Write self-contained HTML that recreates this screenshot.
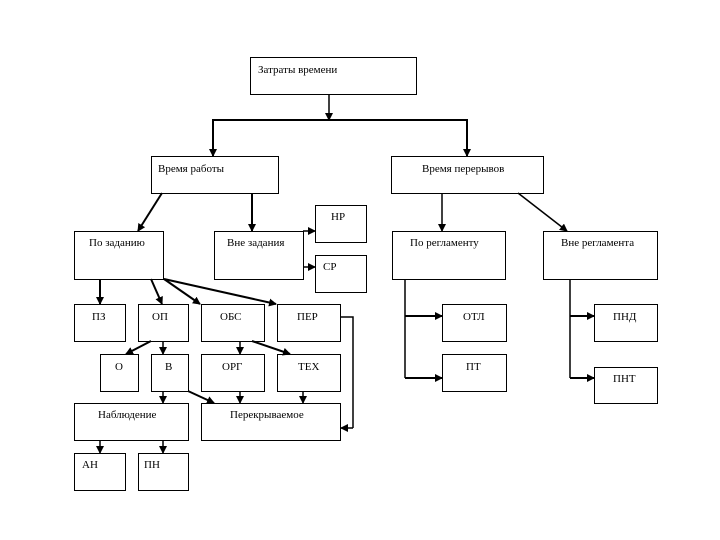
<!DOCTYPE html>
<html><head><meta charset="utf-8"><style>
html,body{margin:0;padding:0;background:#fff;}
svg{display:block;}
text{font-family:"Liberation Serif",serif;font-size:11px;fill:#000;}
</style></head><body>
<svg width="720" height="540" viewBox="0 0 720 540" xmlns="http://www.w3.org/2000/svg">
<defs>
<marker id="a" markerWidth="8" markerHeight="8" refX="7" refY="4" orient="auto" markerUnits="userSpaceOnUse">
<path d="M0,0 L8,4 L0,8 z" fill="#000"/></marker>
</defs>
<g fill="#fff" stroke="#000" stroke-width="1">
<rect x="250.5" y="57.5" width="166" height="37"/>
<rect x="151.5" y="156.5" width="127" height="37"/>
<rect x="391.5" y="156.5" width="152" height="37"/>
<rect x="74.5" y="231.5" width="89" height="48"/>
<rect x="214.5" y="231.5" width="89" height="48"/>
<rect x="315.5" y="205.5" width="51" height="37"/>
<rect x="315.5" y="255.5" width="51" height="37"/>
<rect x="392.5" y="231.5" width="113" height="48"/>
<rect x="543.5" y="231.5" width="114" height="48"/>
<rect x="74.5" y="304.5" width="51" height="37"/>
<rect x="138.5" y="304.5" width="50" height="37"/>
<rect x="201.5" y="304.5" width="63" height="37"/>
<rect x="277.5" y="304.5" width="63" height="37"/>
<rect x="100.5" y="354.5" width="38" height="37"/>
<rect x="151.5" y="354.5" width="37" height="37"/>
<rect x="201.5" y="354.5" width="63" height="37"/>
<rect x="277.5" y="354.5" width="63" height="37"/>
<rect x="74.5" y="403.5" width="114" height="37"/>
<rect x="201.5" y="403.5" width="139" height="37"/>
<rect x="74.5" y="453.5" width="51" height="37"/>
<rect x="138.5" y="453.5" width="50" height="37"/>
<rect x="442.5" y="304.5" width="64" height="37"/>
<rect x="442.5" y="354.5" width="64" height="37"/>
<rect x="594.5" y="304.5" width="63" height="37"/>
<rect x="594.5" y="367.5" width="63" height="36"/>
</g>
<g stroke="#000" stroke-width="1.5" fill="none">
<line x1="329" y1="94" x2="329" y2="120" marker-end="url(#a)"/>
<polyline points="213,155 213,120 467,120 467,155" stroke-width="2"/>
<line x1="213" y1="140" x2="213" y2="156" marker-end="url(#a)" stroke-width="2"/>
<line x1="467" y1="140" x2="467" y2="156" marker-end="url(#a)" stroke-width="2"/>
<line x1="162" y1="193" x2="138" y2="231" marker-end="url(#a)" stroke-width="2"/>
<line x1="252" y1="193" x2="252" y2="231" marker-end="url(#a)" stroke-width="2"/>
<line x1="303" y1="231" x2="315" y2="231" marker-end="url(#a)"/>
<line x1="303" y1="267" x2="315" y2="267" marker-end="url(#a)"/>
<line x1="442" y1="193" x2="442" y2="231" marker-end="url(#a)"/>
<line x1="518" y1="193" x2="567" y2="231" marker-end="url(#a)"/>
<line x1="100" y1="279" x2="100" y2="304" marker-end="url(#a)" stroke-width="2"/>
<line x1="151" y1="279" x2="162" y2="304" marker-end="url(#a)" stroke-width="2"/>
<line x1="164" y1="279" x2="200" y2="304" marker-end="url(#a)" stroke-width="2"/>
<line x1="164" y1="279" x2="276" y2="304" marker-end="url(#a)" stroke-width="2"/>
<line x1="151" y1="341" x2="126" y2="354" marker-end="url(#a)" stroke-width="2"/>
<line x1="163" y1="341" x2="163" y2="354" marker-end="url(#a)"/>
<line x1="240" y1="341" x2="240" y2="354" marker-end="url(#a)"/>
<line x1="252" y1="341" x2="290" y2="354" marker-end="url(#a)" stroke-width="2"/>
<line x1="163" y1="391" x2="163" y2="403" marker-end="url(#a)"/>
<line x1="188" y1="391" x2="214" y2="403" marker-end="url(#a)" stroke-width="2"/>
<line x1="240" y1="391" x2="240" y2="403" marker-end="url(#a)"/>
<line x1="303" y1="391" x2="303" y2="403" marker-end="url(#a)"/>
<line x1="100" y1="440" x2="100" y2="453" marker-end="url(#a)"/>
<line x1="163" y1="440" x2="163" y2="453" marker-end="url(#a)"/>
<polyline points="340,317 353,317 353,428"/>
<line x1="353" y1="428" x2="341" y2="428" marker-end="url(#a)"/>
<line x1="405" y1="279" x2="405" y2="378"/>
<line x1="405" y1="316" x2="442" y2="316" marker-end="url(#a)" stroke-width="2"/>
<line x1="405" y1="378" x2="442" y2="378" marker-end="url(#a)" stroke-width="2"/>
<line x1="570" y1="279" x2="570" y2="378"/>
<line x1="570" y1="316" x2="594" y2="316" marker-end="url(#a)" stroke-width="2"/>
<line x1="570" y1="378" x2="594" y2="378" marker-end="url(#a)" stroke-width="2"/>
</g>
<text x="258" y="73">Затраты времени</text>
<text x="158" y="172">Время работы</text>
<text x="422" y="172">Время перерывов</text>
<text x="89" y="246">По заданию</text>
<text x="227" y="246">Вне задания</text>
<text x="331" y="220">НР</text>
<text x="323" y="270">СР</text>
<text x="410" y="246">По регламенту</text>
<text x="561" y="246">Вне регламента</text>
<text x="92" y="320">ПЗ</text>
<text x="152" y="320">ОП</text>
<text x="220" y="320">ОБС</text>
<text x="297" y="320">ПЕР</text>
<text x="115" y="370">О</text>
<text x="165" y="370">В</text>
<text x="222" y="370">ОРГ</text>
<text x="298" y="370">ТЕХ</text>
<text x="98" y="418">Наблюдение</text>
<text x="230" y="418">Перекрываемое</text>
<text x="82" y="468">АН</text>
<text x="144" y="468">ПН</text>
<text x="463" y="320">ОТЛ</text>
<text x="466" y="370">ПТ</text>
<text x="613" y="320">ПНД</text>
<text x="613" y="382">ПНТ</text>
</svg>
</body></html>
